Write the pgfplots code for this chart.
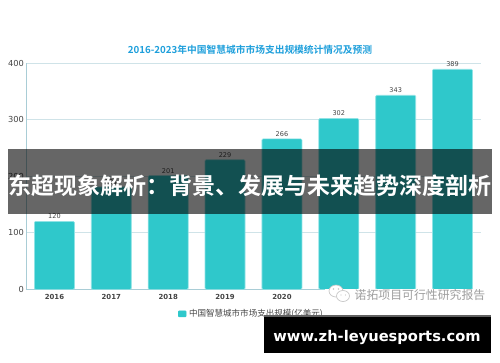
\documentclass[border=0pt]{standalone}
\usepackage{fontspec}
\usepackage{pgfplots}
\pgfplotsset{compat=1.18}
\setmainfont{DejaVu Sans}
\newfontfamily\cjk{Noto Sans CJK SC}
\newfontfamily\cjkb{Noto Sans CJK SC Bold}
\definecolor{barc}{HTML}{2FC8CB}
\definecolor{barl}{HTML}{8FE3E5}
\definecolor{gridc}{HTML}{CFE3E8}
\definecolor{axc}{HTML}{A9CDD6}
\definecolor{titc}{HTML}{1E9FDB}
\definecolor{txt}{HTML}{444444}
\pgfplotstableread{
x v
0 120
1 181
2 201
3 229
4 266
5 302
6 343
7 389
}\spend
\begin{document}
\begin{tikzpicture}
\path[use as bounding box] (0,0) rectangle (375pt,271.5pt);
\begin{axis}[
  at={(19.5pt,54.5pt)},anchor=south west,
  scale only axis,width=341.25pt,height=169.7pt,
  xmin=-0.5,xmax=7.5,ymin=0,ymax=400,
  axis lines=left,axis line style={axc,-,line width=0.6pt},
  ymajorgrids,grid style={gridc,line width=0.6pt},
  ytick={0,100,200,300,400},
  xtick=data,xticklabels={2016,2017,2018,2019,2020,{},{},{}},
  xticklabel style={font=\fontsize{5.2}{6}\selectfont\bfseries,text=txt},
  yticklabel style={font=\fontsize{6.2}{7}\selectfont,text=txt},
  /pgf/number format/assume math mode=true,
  major tick length=0pt,
  xticklabel shift=0.5pt,yticklabel shift=-2pt,
  ybar,bar width=30pt,
  nodes near coords,
  nodes near coords style={font=\fontsize{4.9}{5.5}\selectfont,text=txt,inner sep=1.6pt,/pgf/number format/assume math mode=true},
  legend style={at={(0.334,-0.075)},anchor=north west,draw=none,fill=none,inner sep=0pt,font=\cjk\fontsize{6.4}{7}\selectfont,text=txt},
  legend image code/.code={\fill[barc,rounded corners=0.5pt](0pt,-2.2pt) rectangle (5.6pt,2.2pt);},
]
\addplot[fill=barc,draw=barl,line width=0.5pt,rounded corners=0.8pt] table[x=x,y=v]{\spend};
\addlegendentry{中国智慧城市市场支出规模(亿美元)}
\end{axis}
\begin{scope}[x=0.75pt,y=-0.75pt,shift={(0pt,271.5pt)}]
\node[font=\cjkb\fontsize{7.3}{8}\selectfont,text=titc] at (250,50) {2016-2023年中国智慧城市市场支出规模统计情况及预测};
% banner
\fill[black,opacity=0.6] (8,149) rectangle (492,214);
\node[font=\cjkb\fontsize{17.25}{20}\selectfont,text=white,inner sep=0pt] at (249.5,186) {东超现象解析：背景、发展与未来趋势深度剖析};
% watermark
\fill[white] (325,289.4) rectangle (492,306);
\begin{scope}[gray!45,line width=0.5pt]
\draw[fill=white] (336,291) ellipse (7 and 6);
\draw[fill=white] (343,296) ellipse (6.5 and 5.5);
\fill (333.5,289) circle (0.8);
\fill (338.5,289) circle (0.8);
\fill (341,295) circle (0.7);
\fill (345.5,295) circle (0.7);
\end{scope}
\node[font=\cjk\fontsize{8.9}{10}\selectfont,text=black!38,inner sep=0pt] at (420,294.5) {诺拓项目可行性研究报告};
% footer
\fill[black!62] (264,315) rectangle (491,317);
\fill[black] (264,317) rectangle (491,353);
\node[font=\bfseries\fontsize{11}{13}\selectfont,text=white,inner sep=0pt] at (377,337.5) {www.zh-leyuesports.com};
\end{scope}
\end{tikzpicture}
\end{document}
